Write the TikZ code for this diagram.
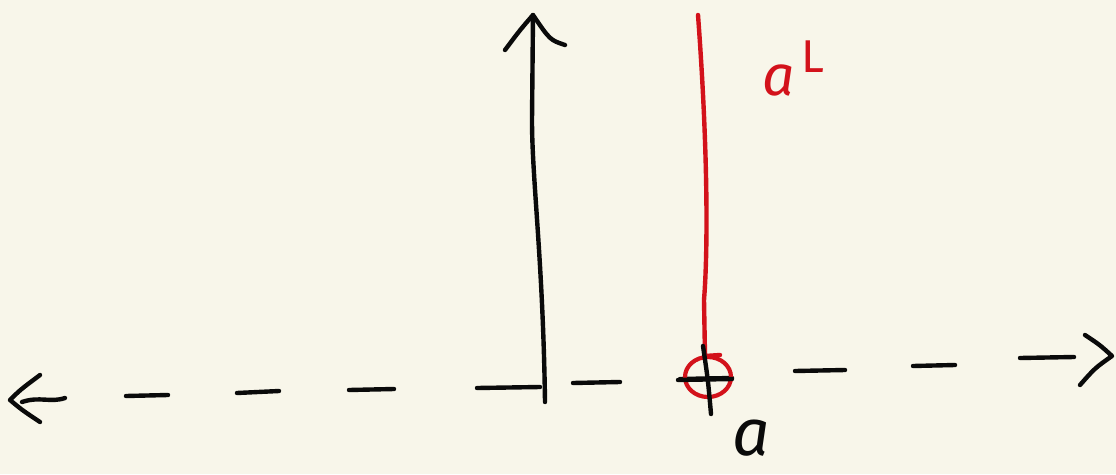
\documentclass[tikz,border=0pt]{standalone}
\usepackage{fontspec}
\usetikzlibrary{shapes.geometric}
\newfontfamily\handfont{Fira Sans}
\definecolor{paper}{HTML}{F8F6EA}
\definecolor{ink}{HTML}{0A0A0A}
\definecolor{redink}{HTML}{D3121B}
\begin{document}
\begin{tikzpicture}[x=1pt,y=-1pt,
  pen/.style={line width=4.4pt,line cap=round,line join=round,draw=ink},
  redpen/.style={line width=4.4pt,line cap=round,line join=round,draw=redink},
  lbl/.style={inner sep=0pt,anchor=base}]
\fill[paper] (0,0) rectangle (1116,474);
\useasboundingbox (0,0) rectangle (1116,474);
% horizontal dashed axis
\coordinate (Ltip) at (10,400);
\coordinate (Rtip) at (1112,356);
\draw[pen] (40,375) .. controls (20,390) .. (Ltip) .. controls (22,410) .. (40,422);
\draw[pen] (22,402) .. controls (40,396) and (50,403) .. (65,398);
\draw[pen] (126,396) -- (168,395);
\draw[pen] (237,393) -- (279,391);
\draw[pen] (349,390) -- (394,389);
\draw[pen] (477,388) -- (540,387);
\draw[pen] (573,383) -- (620,382);
\draw[pen] (680,379) -- (732,378);
\draw[pen] (795,371) -- (845,370);
\draw[pen] (913,366) -- (955,365);
\draw[pen] (1020,358) -- (1074,357);
\draw[pen] (1085,335) .. controls (1100,345) .. (Rtip) .. controls (1095,368) .. (1080,385);
% vertical axis
\coordinate (vbot) at (545,402);
\coordinate (vtop) at (533,15);
\draw[pen] (vbot) .. controls (543,260) and (532,180) .. (532,120) -- (vtop);
\draw[pen] (505,50) .. controls (520,30) .. (vtop) .. controls (550,40) .. (565,45);
% red line a^L
\coordinate (rtop) at (698,15);
\coordinate (rbot) at (705,356);
\draw[redpen] (rtop) .. controls (708,150) and (708,250) .. (704,300) -- (rbot) -- (720,355);
\node[draw=redink,line width=4.2pt,ellipse,minimum width=46pt,minimum height=40pt,inner sep=0pt] (pt) at (708,377) {};
% plus mark
\draw[pen] (678,380) -- (732,379);
\draw[pen] (703,346) .. controls (708,380) .. (711,414);
% labels
\node[lbl,text=redink] (aL) at (779,95) {\fontsize{57}{57}\selectfont\handfont\itshape a};
\node[lbl,text=redink] (L) at (813,72) {\fontsize{46}{46}\selectfont\handfont L};
\node[lbl,text=ink] (a) at (751,455) {\fontsize{66}{66}\selectfont\handfont\itshape a};
\end{tikzpicture}
\end{document}
